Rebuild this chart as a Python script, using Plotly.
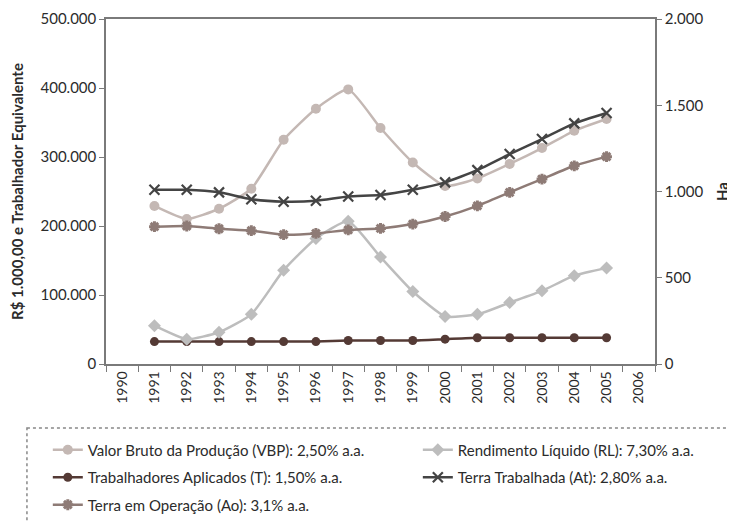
import plotly.graph_objects as go

# Eixo X (categorias)
anos = [str(a) for a in range(1990, 2007)]
anos_dados = [str(a) for a in range(1991, 2006)]

# Eixo esquerdo: R$ 1.000,00 e Trabalhador Equivalente
vbp = [229000, 210000, 225000, 254000, 325000, 370000, 398000, 342000,
       292000, 258000, 269000, 290000, 313000, 338000, 355000]
rl = [55500, 36000, 46000, 72000, 136000, 182000, 207000, 155000,
      105000, 69000, 72000, 89000, 106000, 128000, 139000]
trab = [32500, 32500, 32500, 32500, 32500, 32500, 34000, 34000,
        34000, 36000, 38000, 38000, 38000, 38000, 38000]

# Eixo direito: Ha
terra_trab = [1010, 1010, 995, 955, 941, 946, 971, 980,
              1010, 1053, 1124, 1217, 1304, 1395, 1455]
terra_oper = [796, 800, 784, 773, 750, 757, 777, 786,
              811, 855, 917, 995, 1072, 1149, 1202]

nomes = [
    "Valor Bruto da Produção (VBP): 2,50% a.a.",
    "Rendimento Líquido (RL): 7,30% a.a.",
    "Trabalhadores Aplicados (T): 1,50% a.a.",
    "Terra Trabalhada (At): 2,80% a.a.",
    "Terra em Operação (Ao): 3,1% a.a.",
]

FONTE = "Lato, 'Open Sans', sans-serif"
EIXO = "#7a7a7a"

fig = go.Figure()


def serie(y, nome, cor, simbolo, tam, eixo, legenda, lw=2.5, mlw=0):
    return go.Scatter(
        x=anos_dados, y=y, name=nome, yaxis=eixo, legend=legenda,
        legendgroup=nome,
        mode="lines+markers",
        line=dict(color=cor, width=lw, shape="spline", smoothing=0.5),
        marker=dict(symbol=simbolo, size=tam, color=cor,
                    line=dict(color=cor, width=mlw)),
    )


fig.add_trace(serie(vbp, nomes[0], "#c4b8b4", "circle", 10, "y", "legend"))
fig.add_trace(serie(trab, nomes[2], "#543a35", "circle", 9, "y", "legend"))
fig.add_trace(serie(terra_oper, nomes[4], "#8e7b76", "asterisk-open", 9, "y2", "legend", mlw=3))
fig.add_trace(serie(rl, nomes[1], "#bdbdbd", "diamond", 10, "y", "legend2"))
fig.add_trace(serie(terra_trab, nomes[3], "#444444", "x-thin-open", 10, "y2", "legend2", mlw=2.2))

leg = dict(
    font=dict(family=FONTE, size=15, color="#2b2b2b"),
    bgcolor="rgba(0,0,0,0)", borderwidth=0,
    yanchor="top", xanchor="left", y=-0.2014,
    traceorder="grouped", tracegroupgap=5, itemwidth=30,
)

# a página tem 8px de margem no body: a figura fica 8px menor e deslocada
fig.update_layout(
    width=727, height=515,
    margin=dict(l=98, r=80, t=11, b=159, autoexpand=False),
    paper_bgcolor="white", plot_bgcolor="white",
    font=dict(family=FONTE, size=15, color="#2b2b2b"),
    separators=",.",
    showlegend=True,
    legend=dict(leg, x=-0.106),
    legend2=dict(leg, x=0.568),
    xaxis=dict(
        type="category", categoryorder="array", categoryarray=anos,
        range=[-0.5, 16.5], tickson="boundaries", ticks="outside",
        ticklen=6, tickcolor=EIXO, tickangle=-90,
        showline=True, linecolor=EIXO, linewidth=1.5, mirror=True,
        showgrid=False, zeroline=False, automargin=False,
        tickfont=dict(size=14),
    ),
    yaxis=dict(
        range=[0, 500000], dtick=100000, tickformat=",d",
        ticks="outside", ticklen=5, tickcolor=EIXO,
        showline=True, linecolor=EIXO, linewidth=1.5,
        showgrid=False, zeroline=False, automargin=False,
        title=dict(text="<b>R$ 1.000,00 e Trabalhador Equivalente</b>",
                   font=dict(size=15), standoff=13),
    ),
    yaxis2=dict(
        overlaying="y", side="right",
        range=[0, 2000], dtick=500, tickformat=",d",
        ticks="outside", ticklen=5, tickcolor=EIXO,
        showline=True, linecolor=EIXO, linewidth=1.5,
        showgrid=False, zeroline=False, automargin=False,
        title=dict(text="<b>Ha</b>", font=dict(size=15), standoff=15),
    ),
    shapes=[dict(
        type="rect", xref="paper", yref="paper",
        x0=-0.144, x1=1.1366, y0=-0.1855, y1=-0.49,
        line=dict(color="#888888", width=1.5, dash="dot"),
    )],
)

fig.write_html("out.html")
